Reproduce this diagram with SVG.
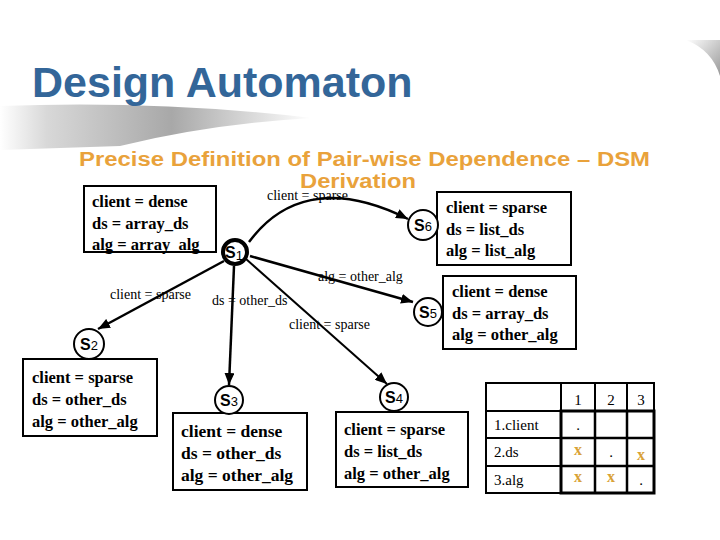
<svg xmlns="http://www.w3.org/2000/svg" width="720" height="540" viewBox="0 0 720 540">
<defs>
<linearGradient id="sw" x1="0" y1="0" x2="1" y2="0">
<stop offset="0" stop-color="#ffffff"/>
<stop offset="0.15" stop-color="#d8d8d8"/>
<stop offset="0.55" stop-color="#a8a8a8"/>
<stop offset="1" stop-color="#ffffff"/>
</linearGradient>
<linearGradient id="sw2" x1="0" y1="0" x2="1" y2="1">
<stop offset="0" stop-color="#ffffff"/>
<stop offset="1" stop-color="#999999"/>
</linearGradient>
<marker id="ah" markerUnits="userSpaceOnUse" markerWidth="13" markerHeight="10" refX="12" refY="5" orient="auto">
<path d="M0,0 L12,5 L0,10 z" fill="#000"/>
</marker>
<style>
.box{fill:#fff;stroke:#000;stroke-width:2}
.bt{font-family:"Liberation Serif","Times New Roman",serif;font-size:16.5px;font-weight:bold;fill:#000}
.el{font-family:"Liberation Serif","Times New Roman",serif;font-size:14px;fill:#000}
.st{fill:#fff;stroke:#000;stroke-width:2}
.sl{font-family:"Liberation Sans",Arial,sans-serif;font-size:16px;font-weight:bold;fill:#000;text-anchor:middle}
.sd{font-weight:normal;font-size:13px}
.edge{fill:none;stroke:#000;stroke-width:2.5;marker-end:url(#ah)}
.tt{font-family:"Liberation Serif","Times New Roman",serif;font-size:15px;fill:#000}
.tx{font-family:"Liberation Serif","Times New Roman",serif;font-size:16px;font-weight:bold;fill:#D9A236;text-anchor:middle}
.tc{text-anchor:middle}
</style>
</defs>
<rect width="720" height="540" fill="#fff"/>
<path d="M0,106 Q160,100 312,118 Q210,124 120,146 L0,150 Z" fill="url(#sw)"/>
<path d="M686,40 Q712,50 720,76 L720,40 Z" fill="url(#sw2)"/>
<text x="32" y="97" font-family="'Liberation Sans',Arial,sans-serif" font-size="43" font-weight="bold" fill="#336699">Design Automaton</text>
<text x="79" y="166" font-family="'Liberation Sans',Arial,sans-serif" font-size="20" font-weight="bold" fill="#E9A23B" textLength="571" lengthAdjust="spacingAndGlyphs">Precise Definition of Pair-wise Dependence – DSM</text>
<text x="300" y="188" font-family="'Liberation Sans',Arial,sans-serif" font-size="20" font-weight="bold" fill="#E9A23B" textLength="116" lengthAdjust="spacingAndGlyphs">Derivation</text>
<g id="connectors">
<path class="edge" d="M249,242 C280,200 330,180 408,219"/>
<path class="edge" d="M224,261 L98,329"/>
<path class="edge" d="M234,266 L229,385"/>
<path class="edge" style="stroke-width:2" d="M246,259 L387,384"/>
<path class="edge" d="M250,256 L413,302"/>
<text class="el" x="267" y="200">client = sparse</text>
<text class="el" x="110" y="299">client = sparse</text>
<text class="el" x="212" y="305">ds = other_ds</text>
<text class="el" x="289" y="329">client = sparse</text>
<text class="el" x="318" y="281">alg = other_alg</text>
</g>
<g id="s1">
<rect class="box" x="84" y="186" width="132" height="66"/>
<text class="bt" x="92" y="207">client = dense</text>
<text class="bt" x="92" y="229">ds = array_ds</text>
<text class="bt" x="92" y="250">alg = array_alg</text>
<circle cx="235" cy="252" r="12" fill="#fff" stroke="#000" stroke-width="4"/>
<text class="sl" x="234" y="258">S<tspan class="sd" dy="2">1</tspan></text>
</g>
<g id="s6">
<rect class="box" x="437" y="192" width="134" height="73"/>
<text class="bt" x="446" y="213">client = sparse</text>
<text class="bt" x="446" y="235">ds = list_ds</text>
<text class="bt" x="446" y="256">alg = list_alg</text>
<circle class="st" cx="423" cy="225" r="15"/>
<text class="sl" x="423" y="231">S<tspan class="sd">6</tspan></text>
</g>
<g id="s5">
<rect class="box" x="443" y="276" width="133" height="73"/>
<text class="bt" x="452" y="297">client = dense</text>
<text class="bt" x="452" y="319">ds = array_ds</text>
<text class="bt" x="452" y="340">alg = other_alg</text>
<circle class="st" cx="428" cy="312" r="14"/>
<text class="sl" x="428" y="318">S<tspan class="sd">5</tspan></text>
</g>
<g id="s2">
<rect class="box" x="23" y="359" width="134" height="77"/>
<text class="bt" x="32" y="383">client = sparse</text>
<text class="bt" x="32" y="405">ds = other_ds</text>
<text class="bt" x="32" y="427">alg = other_alg</text>
<circle class="st" cx="89" cy="344" r="15"/>
<text class="sl" x="89" y="350">S<tspan class="sd">2</tspan></text>
</g>
<g id="s3">
<rect class="box" x="173" y="413" width="134" height="77"/>
<text class="bt" x="181" y="437" style="font-size:17.5px">client = dense</text>
<text class="bt" x="181" y="459" style="font-size:17.5px">ds = other_ds</text>
<text class="bt" x="181" y="481" style="font-size:17.5px">alg = other_alg</text>
<circle class="st" cx="229" cy="400" r="14"/>
<text class="sl" x="229" y="406">S<tspan class="sd">3</tspan></text>
</g>
<g id="s4">
<rect class="box" x="336" y="412" width="132" height="75"/>
<text class="bt" x="344" y="435">client = sparse</text>
<text class="bt" x="344" y="457">ds = list_ds</text>
<text class="bt" x="344" y="479">alg = other_alg</text>
<circle class="st" cx="394" cy="397" r="14"/>
<text class="sl" x="394" y="403">S<tspan class="sd">4</tspan></text>
</g>
<g id="dsm">
<rect x="486" y="383" width="168" height="110" fill="#fff" stroke="#000" stroke-width="2"/>
<path d="M561,383 V493 M595,383 V493 M627,383 V493 M486,411 H654 M486,438 H654 M486,466 H654" stroke="#000" stroke-width="2" fill="none"/>
<rect x="561" y="411" width="93" height="82" fill="none" stroke="#000" stroke-width="3"/>
<path d="M595,411 V493 M627,411 V493 M561,438 H654 M561,466 H654" stroke="#000" stroke-width="2.5" fill="none"/>
<text class="tt tc" x="578" y="405">1</text>
<text class="tt tc" x="611" y="405">2</text>
<text class="tt tc" x="641" y="405">3</text>
<text class="tt" x="494" y="430">1.client</text>
<text class="tt" x="494" y="457">2.ds</text>
<text class="tt" x="494" y="485">3.alg</text>
<text class="tt tc" x="578" y="430">.</text>
<text class="tx" x="578" y="455">x</text>
<text class="tt tc" x="611" y="457">.</text>
<text class="tx" x="641" y="460">x</text>
<text class="tx" x="578" y="482">x</text>
<text class="tx" x="611" y="482">x</text>
<text class="tt tc" x="641" y="485">.</text>
</g>
</svg>
